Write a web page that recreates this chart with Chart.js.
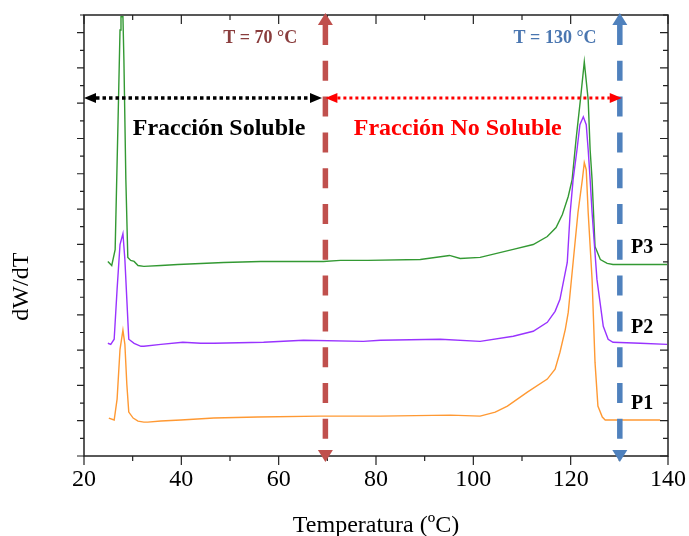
<!DOCTYPE html>
<html><head><meta charset="utf-8">
<script src="https://cdn.jsdelivr.net/npm/chart.js@4/dist/chart.umd.min.js"></script>
<style>html,body{margin:0;padding:0;background:#fff;}#wrap{width:689px;height:536px;position:relative;}canvas{display:block;}</style>
</head><body><div id="wrap"><canvas id="c" width="689" height="536" style="width:689px;height:536px"></canvas></div>
<script>
// ---- data ----
const tempP3 = [24.9,25.7,26.4,27.0,27.4,27.6,28.0,28.2,28.6,29.0,29.6,30.3,31.1,32.3,35.8,39.3,48.7,56.3,69.2,72.7,78.3,89.1,95.1,97.3,101.4,108.2,112.3,115.2,117.0,118.3,119.5,120.3,121.1,122.0,122.8,123.6,124.0,124.4,125.0,126.1,127.5,128.7,134.3,139.8];
const dwP3   = [11.03,10.80,11.7,19.06,24.15,24.9,24.9,22.45,15.67,11.26,11.09,11.03,10.80,10.75,10.80,10.86,10.97,11.03,11.03,11.09,11.09,11.14,11.37,11.2,11.26,11.71,11.99,12.44,12.95,13.69,14.71,15.67,17.93,20.19,22.34,20.19,17.36,15.67,11.88,11.14,10.92,10.86,10.86,10.86];
const tempP2 = [24.9,25.5,26.2,26.8,27.4,28.0,28.4,28.8,29.2,30.3,31.7,32.3,35.8,40.3,44.0,46.7,56.9,65.1,77.4,80.9,93.2,101.4,108.2,112.3,115.2,116.8,117.8,119.3,119.9,120.5,121.3,121.9,122.6,123.2,123.6,124.0,124.4,125.4,126.7,127.7,128.7,134.3,139.8];
const dwP2   = [6.39,6.33,6.62,9.45,11.99,12.61,11.14,8.88,6.62,6.39,6.22,6.22,6.33,6.45,6.39,6.39,6.45,6.56,6.50,6.56,6.62,6.50,6.79,7.07,7.58,8.2,8.88,10.97,13.80,15.67,17.36,18.78,19.23,18.78,17.36,15.67,13.80,10.01,7.35,6.62,6.45,6.39,6.33];
const tempP1 = [25.1,26.2,26.8,27.4,28.0,28.4,28.8,29.2,30.1,31.1,32.3,33.1,35.8,39.9,46.7,55.7,68.6,80.9,95.3,101.4,104.5,107.0,111.1,115.2,116.8,117.8,118.9,119.5,120.5,121.5,122.4,122.8,123.2,123.6,124.4,125.0,125.6,126.5,127.1,132.2,138.4];
const dwP1   = [2.15,2.04,3.22,6.05,7.13,6.33,4.07,2.49,2.15,1.98,1.92,1.92,1.98,2.04,2.15,2.21,2.26,2.26,2.32,2.26,2.49,2.83,3.62,4.36,4.92,5.88,7.18,8.14,10.97,13.80,15.67,16.63,16.23,13.80,10.01,5.32,2.83,2.21,2.04,2.04,2.04];
const seriesNames = ['P1','P2','P3'];
const xTickLabels = [20,40,60,80,100,120,140];
const xMinorTicks = [30,50,70,90,110,130];
const yTicks = [0,1,2,3,4,5,6,7,8,9,10,11,12,13,14,15,16,17,18,19,20,21,22,23,24,25];
const markerTemps = [69.6, 130.1];
const markerLabels = ['T = 70 °C','T = 130 °C'];
const fractionLabels = ['Fracción Soluble','Fracción No Soluble'];
const yTitle = 'dW/dT';

// ---- placement of annotations (data coordinates) ----
const annot = {
  markerLabelPos: [[56.2,23.75],[116.8,23.75]],
  arrowY: 20.3,
  solubleArrow: [20, 68.9],
  noSolubleArrow: [69.6, 130.5],
  fractionPos: [[47.75,18.6],[96.8,18.6]],
  seriesLabelPos: [[134.7,3.0],[134.7,7.31],[134.7,11.85]],
  yTitleValue: 9.6
};

const pts = (xs, ys) => xs.map((x,i)=>({x:x,y:ys[i]}));
const serif = "'Liberation Serif','Times New Roman',serif";

const decor = {
  id:'decor',
  afterDatasetsDraw(chart){
    const c = chart.ctx, xs = chart.scales.x, ys = chart.scales.y;
    const L = xs.left, R = xs.right, T = ys.top, B = ys.bottom;
    c.save();
    // frame
    c.strokeStyle = '#222'; c.lineWidth = 1.5;
    c.strokeRect(L, T, R-L, B-T);
    c.lineWidth = 1.2;
    c.beginPath();
    xTickLabels.forEach(v=>{const p=xs.getPixelForValue(v); c.moveTo(p,B); c.lineTo(p,B+9); c.moveTo(p,T); c.lineTo(p,T+9);});
    xMinorTicks.forEach(v=>{const p=xs.getPixelForValue(v); c.moveTo(p,B); c.lineTo(p,B+5); c.moveTo(p,T); c.lineTo(p,T+5);});
    yTicks.forEach(v=>{const p=ys.getPixelForValue(v); const len = v%2===0?7:4; c.moveTo(L,p); c.lineTo(L-len,p); c.moveTo(R,p); c.lineTo(R-len-1,p);});
    c.stroke();

    // vertical dashed marker lines with arrow heads
    const mcol = ['#c0504d','#4f81bd'];
    markerTemps.forEach((t,i)=>{
      const x = xs.getPixelForValue(t);
      const topTip = T-2, botTip = B+6, ah = 12, aw = 7.5;
      c.strokeStyle = mcol[i]; c.fillStyle = mcol[i];
      c.lineWidth = 5.5; c.setLineDash([20,15.8]);
      c.beginPath(); c.moveTo(x, topTip+ah); c.lineTo(x, botTip-ah); c.stroke();
      c.setLineDash([]);
      c.beginPath(); c.moveTo(x, topTip); c.lineTo(x-aw, topTip+ah); c.lineTo(x+aw, topTip+ah); c.closePath(); c.fill();
      c.beginPath(); c.moveTo(x, botTip); c.lineTo(x-aw, botTip-ah); c.lineTo(x+aw, botTip-ah); c.closePath(); c.fill();
    });

    // horizontal dotted double arrows
    const hArrow = (x1v, x2v, col, lw, dash) => {
      const y = ys.getPixelForValue(annot.arrowY);
      const x1 = xs.getPixelForValue(x1v), x2 = xs.getPixelForValue(x2v);
      const al = 12, hw = 5;
      c.strokeStyle = col; c.fillStyle = col; c.lineWidth = lw; c.setLineDash(dash);
      c.beginPath(); c.moveTo(x1+al, y); c.lineTo(x2-al, y); c.stroke();
      c.setLineDash([]);
      c.beginPath(); c.moveTo(x1, y); c.lineTo(x1+al, y-hw); c.lineTo(x1+al, y+hw); c.closePath(); c.fill();
      c.beginPath(); c.moveTo(x2, y); c.lineTo(x2-al, y-hw); c.lineTo(x2-al, y+hw); c.closePath(); c.fill();
    };
    hArrow(annot.solubleArrow[0], annot.solubleArrow[1], '#000', 3.5, [3.5,3]);
    hArrow(annot.noSolubleArrow[0], annot.noSolubleArrow[1], '#ff0000', 3, [3,3]);

    // texts
    c.textAlign = 'center'; c.textBaseline = 'middle';
    const txt = (s, pos, font, col) => {
      c.font = font; c.fillStyle = col;
      c.fillText(s, xs.getPixelForValue(pos[0]), ys.getPixelForValue(pos[1]) + 1);
    };
    txt(markerLabels[0], annot.markerLabelPos[0], 'bold 18px '+serif, '#8a3d3d');
    txt(markerLabels[1], annot.markerLabelPos[1], 'bold 18px '+serif, '#4a76b0');
    txt(fractionLabels[0], annot.fractionPos[0], 'bold 24px '+serif, '#000');
    txt(fractionLabels[1], annot.fractionPos[1], 'bold 24px '+serif, '#ff0000');
    seriesNames.forEach((n,i)=> txt(n, annot.seriesLabelPos[i], 'bold 20px '+serif, '#000'));

    // y axis title (rotated)
    c.save();
    c.translate(ys.left + 22, ys.getPixelForValue(annot.yTitleValue));
    c.rotate(-Math.PI/2);
    c.font = '24px '+serif; c.fillStyle = '#000';
    c.fillText(yTitle, 0, 0);
    c.restore();
    c.restore();
  }
};

new Chart(document.getElementById('c'), {
  type: 'scatter',
  data: { datasets: [
    { label: seriesNames[0], data: pts(tempP1, dwP1), borderColor:'#ff9933', backgroundColor:'#ff9933', showLine:true, pointRadius:0, borderWidth:1.4, tension:0 },
    { label: seriesNames[1], data: pts(tempP2, dwP2), borderColor:'#9933ff', backgroundColor:'#9933ff', showLine:true, pointRadius:0, borderWidth:1.4, tension:0 },
    { label: seriesNames[2], data: pts(tempP3, dwP3), borderColor:'#339933', backgroundColor:'#339933', showLine:true, pointRadius:0, borderWidth:1.4, tension:0 }
  ]},
  options: {
    responsive:false, animation:false, devicePixelRatio:1,
    layout:{ padding:{ top:15, right:21, left:0, bottom:0 } },
    plugins:{ legend:{display:false}, tooltip:{enabled:false} },
    scales:{
      x:{ type:'linear', min:20, max:140,
          afterFit(s){ s.height = 80; s.paddingLeft = 0; s.paddingRight = 0; },
          afterBuildTicks(s){ s.ticks = xTickLabels.map(v=>({value:v})); },
          grid:{ display:false, drawTicks:false }, border:{display:false},
          ticks:{ padding:9, color:'#000', font:{ family:serif, size:24 }, maxRotation:0, autoSkip:false },
          title:{ display:true, text:'Temperatura (ºC)', color:'#000', font:{ family:serif, size:24, lineHeight:1 }, padding:{top:0,bottom:-2} } },
      y:{ type:'linear', min:0, max:25,
          afterFit(s){ s.width = 84; s.paddingTop = 0; s.paddingBottom = 0; },
          grid:{ display:false, drawTicks:false }, border:{display:false},
          ticks:{ display:false },
          title:{ display:false } }
    }
  },
  plugins:[decor]
});
</script></body></html>
